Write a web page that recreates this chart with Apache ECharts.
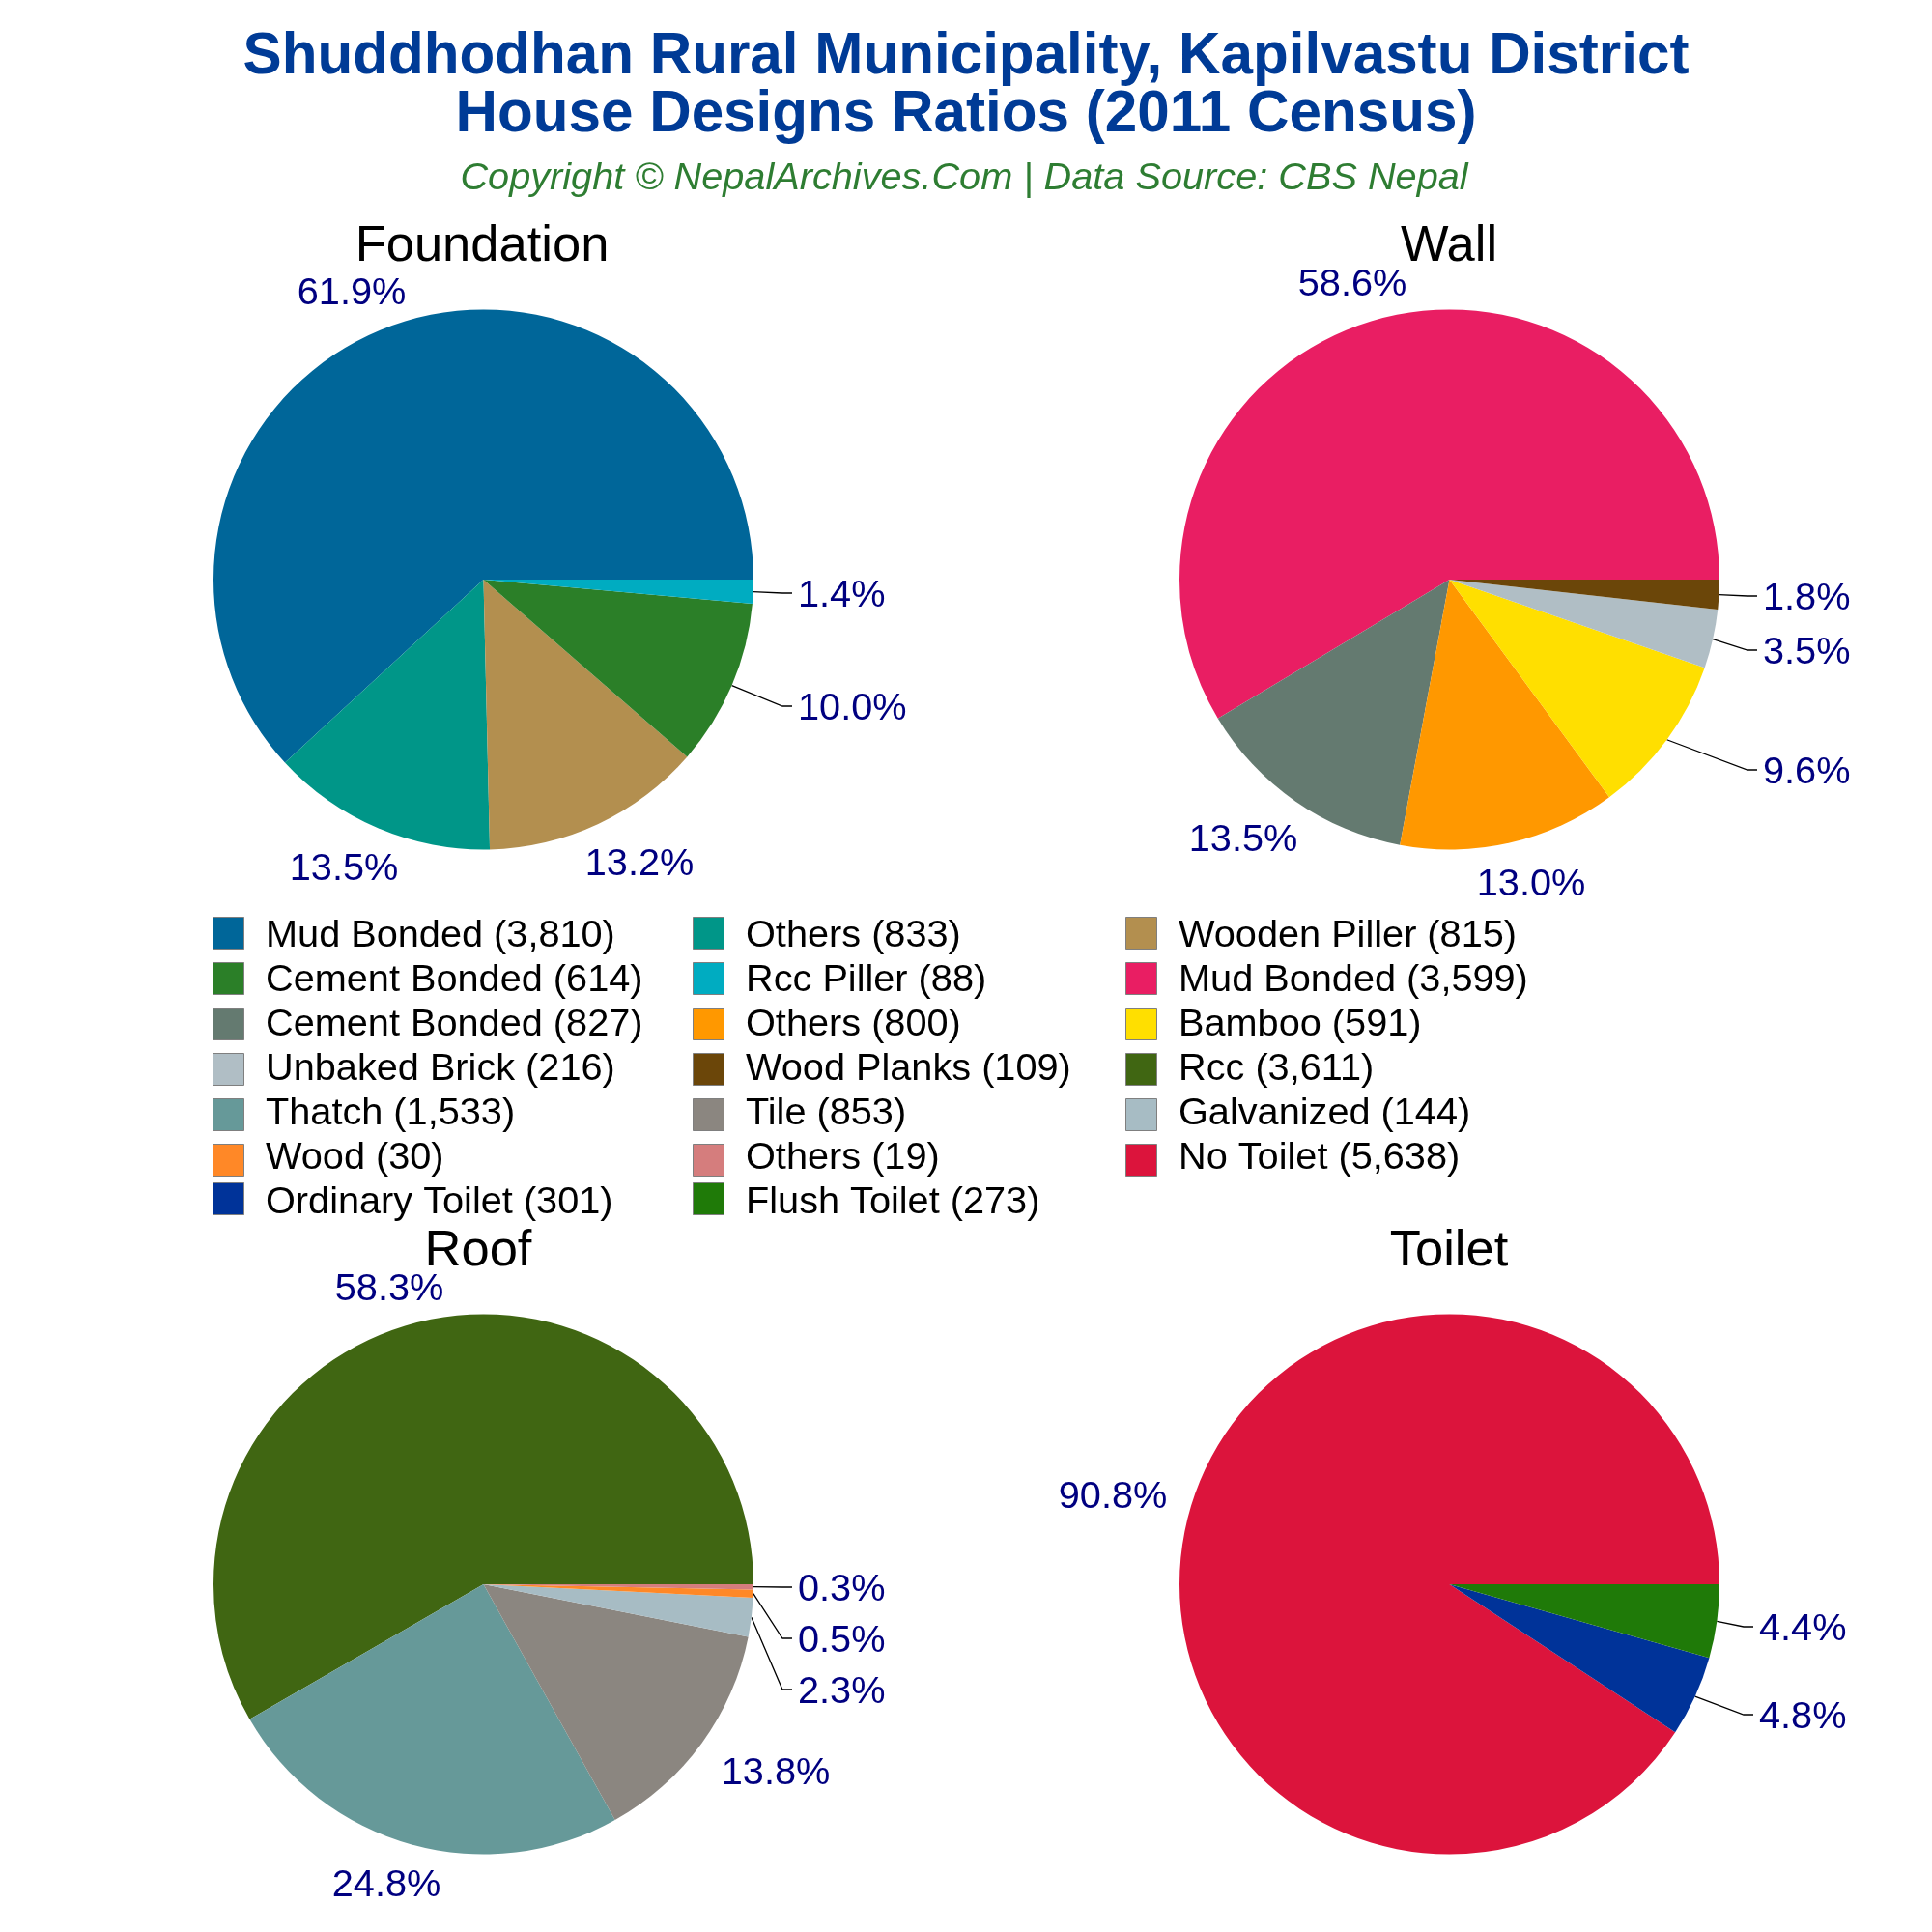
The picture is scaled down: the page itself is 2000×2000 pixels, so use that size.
<!DOCTYPE html>
<html><head><meta charset="utf-8">
<script src="https://cdn.jsdelivr.net/npm/echarts@6/dist/echarts.min.js"></script>
<style>html,body{margin:0;padding:0;background:#fff}#c{width:2000px;height:2000px}</style>
</head><body><div id="c"></div>
<script>
const foundationNames=['Mud Bonded','Others','Wooden Piller','Cement Bonded','Rcc Piller'];
const foundationValues=[3810,833,815,614,88];
const foundationColors=['#006699','#009688','#B38F4F','#2B7F28','#00ACC1'];
const wallNames=['Mud Bonded','Cement Bonded','Others','Bamboo','Unbaked Brick','Wood Planks'];
const wallValues=[3599,827,800,591,216,109];
const wallColors=['#E91E63','#647A70','#FF9800','#FFDF00','#B0BEC5','#6B4609'];
const roofNames=['Rcc','Thatch','Tile','Galvanized','Wood','Others'];
const roofValues=[3611,1533,853,144,30,19];
const roofColors=['#406612','#669999','#8B8680','#A7BCC4','#FF8827','#D57D7D'];
const toiletNames=['No Toilet','Ordinary Toilet','Flush Toilet'];
const toiletValues=[5638,301,273];
const toiletColors=['#DC143C','#003399','#1F7A08'];
const legendOrder=[
 'Mud Bonded (3,810)','Others (833)','Wooden Piller (815)',
 'Cement Bonded (614)','Rcc Piller (88)','Mud Bonded (3,599)',
 'Cement Bonded (827)','Others (800)','Bamboo (591)',
 'Unbaked Brick (216)','Wood Planks (109)','Rcc (3,611)',
 'Thatch (1,533)','Tile (853)','Galvanized (144)',
 'Wood (30)','Others (19)','No Toilet (5,638)',
 'Ordinary Toilet (301)','Flush Toilet (273)'];

const FONT='"Liberation Sans", Arial, sans-serif';
const R=279.5;
const TEXT_DY=3;
const fLayout=[[364,301,'center',0],[356,897,'center',0],[662,892,'center',0],[826,731,'left',1],[826,614,'left',1]];
const wLayout=[[1400,292,'center',0],[1287,867,'center',0],[1585,913,'center',0],[1825,797,'left',1],[1825,673,'left',1],[1825,617,'left',1]];
const rLayout=[[403,1332,'center',0],[400,1949,'center',0],[803,1833,'center',0],[826,1749,'left',1],[826,1696,'left',1],[826,1643,'left',1]];
const tLayout=[[1152,1547,'center',0],[1821,1775,'left',1],[1821,1684,'left',1]];

function makePie(name,names,values,colors,cx,cy,layout){
  const total=values.reduce((a,b)=>a+b,0);
  return {
    type:'pie',name,center:[cx,cy],radius:[0,R],startAngle:0,clockwise:false,
    avoidLabelOverlap:false,animation:false,silent:true,
    itemStyle:{borderWidth:0},
    label:{show:true,position:'outside',color:'#000080',fontFamily:FONT,fontSize:39.7,
      formatter:p=>(p.value/total*100).toFixed(1)+'%'},
    labelLine:{show:true,lineStyle:{color:'#000',width:1.3}},
    labelLayout:p=>{
      const L=layout[p.dataIndex];
      const out={x:L[0],y:L[1]+TEXT_DY,align:L[2],verticalAlign:'middle'};
      if(L[3]&&p.labelLinePoints){
        const s=p.labelLinePoints[0];
        out.labelLinePoints=[[s[0],s[1]],[L[0]-16,L[1]],[L[0]-6,L[1]]];
      }
      return out;
    },
    data:values.map((v,i)=>({
      name:names[i]+' ('+v.toLocaleString('en-US')+')',value:v,
      itemStyle:{color:colors[i]},
      labelLine:{show:!!layout[i][3]}
    }))
  };
}
// swatches and text are separate legends so the text can sit slightly below the swatch centre
function swatchLegend(col,x,top,fromRow,toRow){
  return {
    orient:'vertical',left:x,top,itemWidth:32,itemHeight:33,itemGap:13,padding:0,
    icon:'rect',selectedMode:false,formatter:()=>' ',
    itemStyle:{borderColor:'#7f7f7f',borderWidth:1},
    textStyle:{fontSize:20,lineHeight:20},
    data:legendOrder.filter((_,i)=>i%3===col&&i>=fromRow*3&&i<toRow*3)
  };
}
function textLegend(col,x){
  return {
    orient:'vertical',left:x,top:949,itemWidth:32,itemHeight:33,itemGap:6,padding:0,
    icon:'rect',selectedMode:false,
    itemStyle:{opacity:0,borderWidth:0},
    textStyle:{fontFamily:FONT,fontSize:39.7,lineHeight:40,color:'#000',padding:[0,0,0,18]},
    data:legendOrder.filter((_,i)=>i%3===col)
  };
}
function subTitle(text,x,y){
  return {text,left:x,top:y,textAlign:'center',padding:0,textStyle:{fontFamily:FONT,fontSize:52.5,fontWeight:'normal',color:'#000'}};
}
const chart=echarts.init(document.getElementById('c'),null,{renderer:'canvas'});
chart.setOption({
  backgroundColor:'#fff',animation:false,
  title:[
    {text:'Shuddhodhan Rural Municipality, Kapilvastu District\nHouse Designs Ratios (2011 Census)',
     left:1000,top:29,textAlign:'center',padding:0,
     textStyle:{fontFamily:FONT,fontSize:60.2,fontWeight:'bold',color:'#003B96',lineHeight:60,align:'center'}},
    {text:'Copyright © NepalArchives.Com | Data Source: CBS Nepal',left:998,top:165,textAlign:'center',padding:0,
     textStyle:{fontFamily:FONT,fontSize:39.7,fontStyle:'italic',fontWeight:'normal',color:'#2E7D32'}},
    subTitle('Foundation',499,229),subTitle('Wall',1500,229),
    subTitle('Roof',495,1269),subTitle('Toilet',1500,1269)
  ],
  legend:[
    swatchLegend(0,220,949,0,6),swatchLegend(1,717,949,0,6),swatchLegend(2,1165,949,0,6),
    swatchLegend(0,220,1224,6,7),swatchLegend(1,717,1224,6,7),
    textLegend(0,220),textLegend(1,717),textLegend(2,1165)
  ],
  series:[
    makePie('Foundation',foundationNames,foundationValues,foundationColors,500.5,600,fLayout),
    makePie('Wall',wallNames,wallValues,wallColors,1500.5,600,wLayout),
    makePie('Roof',roofNames,roofValues,roofColors,500.5,1640,rLayout),
    makePie('Toilet',toiletNames,toiletValues,toiletColors,1500.5,1640,tLayout)
  ]
});
</script></body></html>
